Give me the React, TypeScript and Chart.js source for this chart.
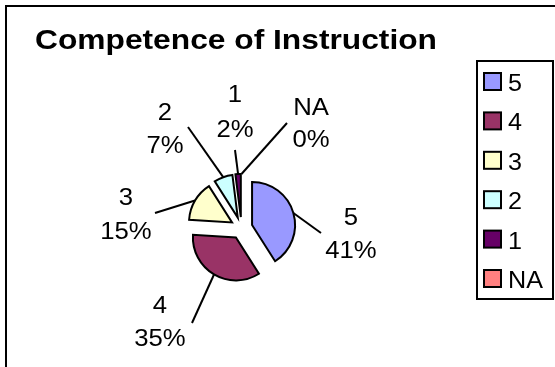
import React, { useEffect, useRef } from "react";
import { Chart, registerables } from "chart.js";

Chart.register(...registerables);

const categories = ["5", "4", "3", "2", "1", "NA"];
const percentValues = [41, 35, 15, 7, 2, 0];
const sliceColors = ["#9999FF", "#993366", "#FFFFCC", "#CCFFFF", "#660066", "#FF8080"];
const chartTitle = "Competence of Instruction";

// layout (label anchors: center x, line1 baseline, line2 baseline; leader line end point)
const labelLayout = [
  { x: 351, y1: 225, y2: 258, lx: 321, ly: 233 },
  { x: 160, y1: 313, y2: 346, lx: 192, ly: 323 },
  { x: 126, y1: 205, y2: 239, lx: 155, ly: 213 },
  { x: 165, y1: 120, y2: 153, lx: 188, ly: 127 },
  { x: 235, y1: 102, y2: 137, lx: 235, ly: 150 },
  { x: 311, y1: 115, y2: 147, lx: 287, ly: 123 },
];
const EXPLODE = 11;
const FONT = "'Liberation Sans', Arial, sans-serif";

function drawText(ctx: CanvasRenderingContext2D, s: string, x: number, y: number, font: string, align: CanvasTextAlign, sx: number) {
  ctx.save();
  ctx.font = font;
  ctx.textAlign = align;
  ctx.textBaseline = "alphabetic";
  ctx.fillStyle = "#000";
  ctx.translate(x, y);
  ctx.scale(sx, 1);
  ctx.fillText(s, 0, 0);
  ctx.restore();
}

const decorPlugin = {
  id: "decor",
  afterDatasetsUpdate(chart: any) {
    const meta = chart.getDatasetMeta(0);
    meta.data.forEach((arc: any) => {
      const mid = (arc.startAngle + arc.endAngle) / 2;
      arc.x += Math.cos(mid) * EXPLODE;
      arc.y += Math.sin(mid) * EXPLODE;
    });
  },
  beforeDraw(chart: any) {
    const ctx: CanvasRenderingContext2D = chart.ctx;
    ctx.save();
    ctx.fillStyle = "#fff";
    ctx.fillRect(0, 0, chart.width, chart.height);
    ctx.strokeStyle = "#000";
    ctx.lineWidth = 2;
    ctx.strokeRect(6, 6, 700, 700);
    // title
    const tf = `bold 28px ${FONT}`;
    ctx.font = tf;
    const w = ctx.measureText(chartTitle).width;
    drawText(ctx, chartTitle, 35, 48.5, tf, "left", 402 / w);
    ctx.restore();
  },
  afterDatasetsDraw(chart: any) {
    const ctx: CanvasRenderingContext2D = chart.ctx;
    const meta = chart.getDatasetMeta(0);
    const vals: number[] = chart.data.datasets[0].data;
    const total = vals.reduce((a, b) => a + b, 0);
    ctx.save();
    // leader lines + labels
    meta.data.forEach((arc: any, i: number) => {
      const mid = (arc.startAngle + arc.endAngle) / 2;
      const r = arc.outerRadius;
      const sx = arc.x + Math.cos(mid) * r;
      const sy = arc.y + Math.sin(mid) * r;
      const L = labelLayout[i];
      ctx.beginPath();
      ctx.moveTo(sx, sy);
      ctx.lineTo(L.lx, L.ly);
      ctx.strokeStyle = "#000";
      ctx.lineWidth = 2;
      ctx.stroke();
      const lf = `24.5px ${FONT}`;
      drawText(ctx, chart.data.labels[i], L.x, L.y1, lf, "center", 1.05);
      drawText(ctx, Math.round((vals[i] / total) * 100) + "%", L.x, L.y2, lf, "center", 1.05);
    });
    // legend
    ctx.strokeStyle = "#000";
    ctx.lineWidth = 2;
    ctx.fillStyle = "#fff";
    ctx.fillRect(477, 61, 76, 238);
    ctx.strokeRect(477, 61, 76, 238);
    const colors: string[] = chart.data.datasets[0].backgroundColor;
    chart.data.labels.forEach((lab: string, i: number) => {
      const top = 73 + i * 39.4;
      ctx.fillStyle = colors[i];
      ctx.fillRect(484, top, 17, 17);
      ctx.strokeStyle = "#000";
      ctx.lineWidth = 2;
      ctx.strokeRect(484, top, 17, 17);
      drawText(ctx, lab, 508, top + 18, `23.5px ${FONT}`, "left", 1.07);
    });
    ctx.restore();
  },
};

export default function App() {
  const ref = useRef<HTMLCanvasElement>(null);
  useEffect(() => {
    if (!ref.current) return;
    const chart = new Chart(ref.current, {
      type: "pie",
      data: {
        labels: categories,
        datasets: [
          {
            data: percentValues,
            backgroundColor: sliceColors,
            borderColor: "#000",
            borderWidth: 2,
            borderJoinStyle: "miter",
          } as any,
        ],
      },
      options: {
        responsive: false,
        animation: false,
        radius: 43,
        layout: { padding: { left: 100, right: 172, top: 150, bottom: 61 } },
        plugins: {
          legend: { display: false },
          tooltip: { enabled: false },
          title: { display: false },
        },
      } as any,
      plugins: [decorPlugin],
    });
    return () => chart.destroy();
  }, []);
  return (
    <div style={{ position: "fixed", left: 0, top: 0, width: 555, height: 367, background: "#fff" }}>
      <canvas ref={ref} width={555} height={367} style={{ display: "block" }} />
    </div>
  );
}
